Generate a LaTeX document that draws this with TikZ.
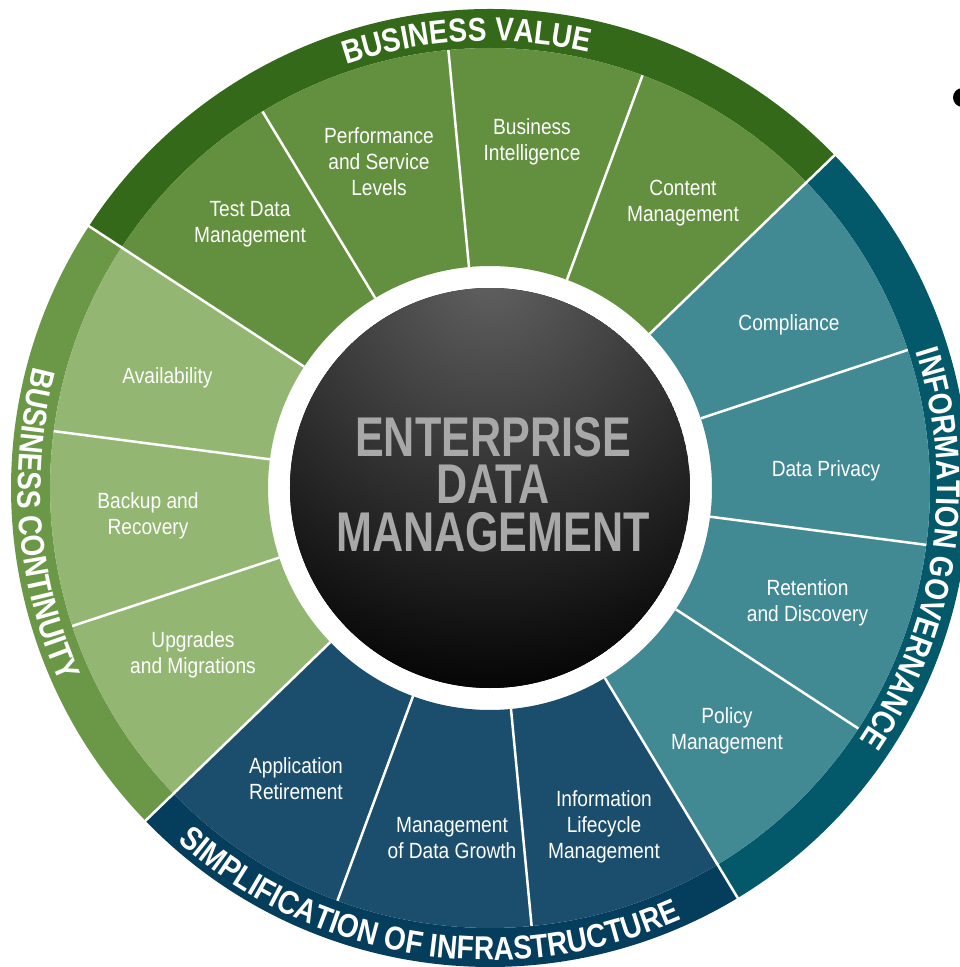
\documentclass[tikz,border=0pt]{standalone}
\usepackage{fontspec}
\setmainfont{Liberation Sans}
\newfontfamily\segfont{Liberation Sans}[FakeStretch=0.87]
\newfontfamily\bandfont{Liberation Sans}[FakeStretch=0.85]
\newfontfamily\hubfont{Liberation Sans}[FakeStretch=0.77]
\usetikzlibrary{decorations.text}
\definecolor{bvband}{HTML}{35691A}
\definecolor{bvseg}{HTML}{62903E}
\definecolor{bcband}{HTML}{6A9846}
\definecolor{bcseg}{HTML}{93B772}
\definecolor{siband}{HTML}{053D5C}
\definecolor{siseg}{HTML}{1B4E6C}
\definecolor{igband}{HTML}{03596A}
\definecolor{igseg}{HTML}{428A93}
\definecolor{hubtext}{HTML}{A8A8A8}

\begin{document}
\begin{tikzpicture}[x=1pt,y=1pt,
	seglabel/.style={text=white, align=center, inner sep=0pt, font=\segfont\fontsize{22}{26}\selectfont},
	divider/.style={draw=white, line width=2.5pt},
	hubtitle/.style={text=hubtext, align=center, inner sep=0pt, font=\hubfont\bfseries\fontsize{56}{47.5}\selectfont}]
		%page
		\path[fill=white, use as bounding box] (-490,-479) rectangle (470,488);
		
		%outer bands
		\foreach \a/\b/\c in {44/146.857/bvband, 146.857/224/bcband, 224/301.143/siband, 301.143/404/igband}
		\fill[\c] (\a:479) arc[start angle=\a, end angle=\b, radius=479] -- (\b:440) arc[start angle=\b, end angle=\a, radius=440] -- cycle;
		
		%segments
		\foreach \a/\b/\c in {44/146.857/bvseg, 146.857/224/bcseg, 224/301.143/siseg, 301.143/404/igseg}
		\fill[\c] (\a:440) arc[start angle=\a, end angle=\b, radius=440] -- (\b:222) arc[start angle=\b, end angle=\a, radius=222] -- cycle;
		
		%white dividers
		\foreach \k in {0,...,13}
		\draw[divider] ({44+\k*360/14}:222) -- ({44+\k*360/14}:440);
		\foreach \a in {44,146.857,224,301.143}
		\draw[divider] (\a:438) -- (\a:481);
		
		%band names
		\path[decorate, decoration={text along path, text align=center, text color=white,
			text={|\bandfont\bfseries\fontsize{33}{33}\selectfont|BUSINESS VALUE}}]
			(135:447) arc[start angle=135, end angle=51, radius=447];
		\path[decorate, decoration={text along path, text align=center, text color=white,
			text={|\bandfont\bfseries\fontsize{33}{33}\selectfont|INFORMATION GOVERNANCE}}]
			(42:447) arc[start angle=42, end angle=-58.6, radius=447];
		\path[decorate, decoration={text along path, text align=center, text color=white,
			text={|\bandfont\bfseries\fontsize{33}{33}\selectfont|SIMPLIFICATION OF INFRASTRUCTURE}}]
			(-148.8:472) arc[start angle=-148.8, end angle=-48.8, radius=472];
		\path[decorate, decoration={text along path, text align=center, text color=white,
			text={|\bandfont\bfseries\fontsize{33}{33}\selectfont|BUSINESS CONTINUITY}}]
			(149.7:472) arc[start angle=149.7, end angle=219.7, radius=472];
		
		%hub
		\begin{scope}
			\clip (0,0) circle (200);
			\fill[black] (0,0) circle (200);
			\shade[inner color=black!62, outer color=black] (0,215) circle (440);
		\end{scope}
		\node[hubtitle] (hub) at (3,3.5) {ENTERPRISE\\DATA\\MANAGEMENT};
		
		%segment names
		\node[seglabel] (testdata) at (-240,264) {Test Data\\Management};
		\node[seglabel] (perf) at (-111,326) {Performance\\and Service\\Levels};
		\node[seglabel] (bi) at (42,346.5) {Business\\Intelligence};
		\node[seglabel] (content) at (193,285) {Content\\Management};
		\node[seglabel] (compliance) at (299,163) {Compliance};
		\node[seglabel] (privacy) at (336,17) {Data Privacy};
		\node[seglabel] (retention) at (317.5,-115) {Retention\\and Discovery};
		\node[seglabel] (policy) at (237,-243) {Policy\\Management};
		\node[seglabel] (ilm) at (114,-338.5) {Information\\Lifecycle\\Management};
		\node[seglabel] (growth) at (-38,-350) {Management\\of Data Growth};
		\node[seglabel] (retire) at (-194,-291) {Application\\Retirement};
		\node[seglabel] (upgrades) at (-297,-167) {Upgrades\\and Migrations};
		\node[seglabel] (backup) at (-342,-28) {Backup and\\Recovery};
		\node[seglabel] (avail) at (-322.5,110) {Availability};
		
		%bullet
		\node[circle, fill=black, minimum size=19pt, inner sep=0pt] (bullet) at (472.5,390.5) {};
	\end{tikzpicture}
\end{document}
